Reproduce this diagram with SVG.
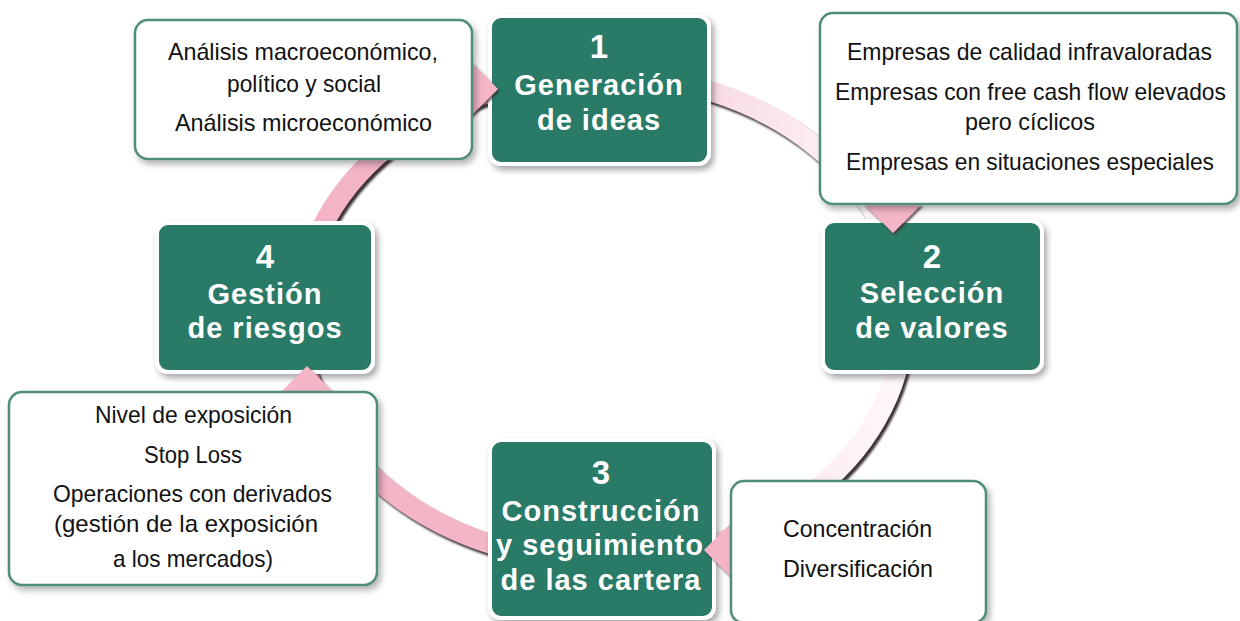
<svg xmlns="http://www.w3.org/2000/svg" width="1240" height="621" viewBox="0 0 1240 621">
<defs>
<style>
.green{fill:#2b7a68;stroke:#ffffff;stroke-width:4;filter:url(#gsh)}
.white{fill:#ffffff;stroke:#4f8c7a;stroke-width:2.5;filter:url(#wsh)}
.gt{font-family:"Liberation Sans",Arial,sans-serif;font-weight:bold;fill:#ffffff;text-anchor:middle;font-size:29px;letter-spacing:1px}
.num{font-size:33px;letter-spacing:0}
.wt{font-family:"Liberation Sans",Arial,sans-serif;fill:#111111;font-size:24px}
.head{fill:#f4b6c7;filter:url(#ash)}
</style>
<filter id="gsh" x="-10%" y="-10%" width="125%" height="125%">
<feDropShadow dx="3" dy="4" stdDeviation="3" flood-color="#000" flood-opacity="0.35"/>
</filter>
<filter id="wsh" x="-10%" y="-10%" width="125%" height="125%">
<feDropShadow dx="3" dy="4" stdDeviation="3" flood-color="#000" flood-opacity="0.3"/>
</filter>
<filter id="ash" x="-30%" y="-30%" width="170%" height="170%">
<feDropShadow dx="1.5" dy="2" stdDeviation="1" flood-color="#3a2a2e" flood-opacity="0.8"/>
</filter>
<filter id="rblur"><feGaussianBlur stdDeviation="1"/></filter>
<linearGradient id="ringg" gradientUnits="userSpaceOnUse" x1="300" y1="0" x2="905" y2="0">
<stop offset="0" stop-color="#f3b3c5"/>
<stop offset="0.45" stop-color="#f4b8c8"/>
<stop offset="0.7" stop-color="#f9dde5"/>
<stop offset="0.9" stop-color="#fdf1f4"/>
<stop offset="1" stop-color="#fff8fa"/>
</linearGradient>
</defs>
<rect width="1240" height="621" fill="#ffffff"/>
<g id="connectors">
<ellipse cx="604.5" cy="321" rx="302" ry="243" fill="none" stroke="#3b3235" stroke-width="20" filter="url(#rblur)"/>
<ellipse cx="602" cy="318" rx="302" ry="243" fill="none" stroke="url(#ringg)" stroke-width="20"/>
</g>
<g id="node-1">
<rect class="green" x="490" y="16" width="219" height="148" rx="11"/>
<text class="gt num" x="599" y="58">1</text>
<text class="gt" x="599" y="95">Generación</text>
<text class="gt" x="599" y="130">de ideas</text>
</g>
<g id="node-2">
<rect class="green" x="823" y="221" width="219" height="151" rx="11"/>
<text class="gt num" x="932" y="268">2</text>
<text class="gt" x="932" y="303">Selección</text>
<text class="gt" x="932" y="338">de valores</text>
</g>
<g id="node-3">
<rect class="green" x="490" y="440" width="224" height="178" rx="11"/>
<text class="gt num" x="601" y="484">3</text>
<text class="gt" x="601" y="521">Construcción</text>
<text class="gt" x="600" y="555" letter-spacing="0.8">y seguimiento</text>
<text class="gt" x="601" y="590">de las cartera</text>
</g>
<g id="node-4">
<rect class="green" x="157" y="223" width="216" height="149" rx="11"/>
<text class="gt num" x="265" y="268">4</text>
<text class="gt" x="265" y="304">Gestión</text>
<text class="gt" x="265" y="338">de riesgos</text>
</g>
<g id="connector-heads">
<polygon class="head" points="470,61 498,89 470,117"/>
<polygon class="head" points="864,204 893,233 922,204"/>
<polygon class="head" points="732,522 704,550 732,578"/>
<polygon class="head" points="279,394 307,366 335,394"/>
</g>
<g id="note-1">
<rect class="white" x="135" y="20" width="337" height="139" rx="13"/>
<text class="wt" x="168" y="60" textLength="270" lengthAdjust="spacingAndGlyphs">Análisis macroeconómico,</text>
<text class="wt" x="227" y="92" textLength="154" lengthAdjust="spacingAndGlyphs">político y social</text>
<text class="wt" x="175" y="131" textLength="257" lengthAdjust="spacingAndGlyphs">Análisis microeconómico</text>
</g>
<g id="note-2">
<rect class="white" x="820" y="13" width="417" height="191" rx="13"/>
<text class="wt" x="847" y="60" textLength="365" lengthAdjust="spacingAndGlyphs">Empresas de calidad infravaloradas</text>
<text class="wt" x="835" y="100" font-size="22" textLength="391" lengthAdjust="spacingAndGlyphs">Empresas con free cash flow elevados</text>
<text class="wt" x="965" y="130" textLength="130" lengthAdjust="spacingAndGlyphs">pero cíclicos</text>
<text class="wt" x="846" y="170" textLength="368" lengthAdjust="spacingAndGlyphs">Empresas en situaciones especiales</text>
</g>
<g id="note-3">
<rect class="white" x="731" y="481" width="255" height="142" rx="13"/>
<text class="wt" x="783" y="537" textLength="149" lengthAdjust="spacingAndGlyphs">Concentración</text>
<text class="wt" x="783" y="577" textLength="150" lengthAdjust="spacingAndGlyphs">Diversificación</text>
</g>
<g id="note-4">
<rect class="white" x="9" y="392" width="368" height="193" rx="13"/>
<text class="wt" x="95" y="423" textLength="197" lengthAdjust="spacingAndGlyphs">Nivel de exposición</text>
<text class="wt" x="144" y="463" textLength="98" lengthAdjust="spacingAndGlyphs">Stop Loss</text>
<text class="wt" x="53" y="502" textLength="279" lengthAdjust="spacingAndGlyphs">Operaciones con derivados</text>
<text class="wt" x="54" y="532" textLength="264" lengthAdjust="spacingAndGlyphs">(gestión de la exposición</text>
<text class="wt" x="113" y="567" textLength="160" lengthAdjust="spacingAndGlyphs">a los mercados)</text>
</g>
</svg>
